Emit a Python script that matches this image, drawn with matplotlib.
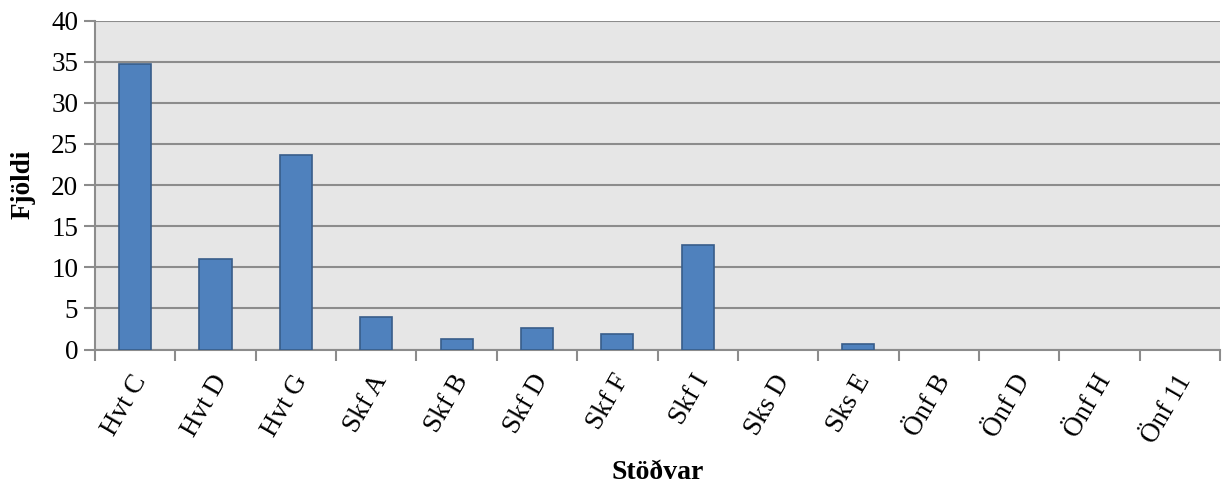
import matplotlib.pyplot as plt
import matplotlib.transforms as mtransforms
import numpy as np

stations = ["Hvt C", "Hvt D", "Hvt G", "Skf A", "Skf B", "Skf D", "Skf F",
            "Skf I", "Sks D", "Sks E", "Önf B", "Önf D", "Önf H", "Önf 11"]
counts = [34.67, 11.0, 23.67, 4.0, 1.33, 2.67, 1.83,
          12.67, 0.0, 0.67, 0.0, 0.0, 0.0, 0.0]
y_ticks = [0, 5, 10, 15, 20, 25, 30, 35, 40]

plt.rcParams['font.family'] = ['Liberation Serif', 'DejaVu Serif']

fig = plt.figure(figsize=(12.23, 4.86), dpi=100)
ax = fig.add_axes([95 / 1223, 1 - 349.5 / 486, 1125 / 1223, 329 / 486])

ax.set_facecolor('#e6e6e6')
x = np.arange(len(stations))
edge_widths = [1.2 if c > 0 else 0 for c in counts]
ax.bar(x, counts, width=0.4, color='#4f81bd', edgecolor='#385d8a',
       linewidth=edge_widths, zorder=3)

ax.set_xlim(-0.5, len(stations) - 0.5)
ax.set_ylim(0, 40)
ax.set_yticks(y_ticks)
ax.yaxis.grid(True, color='#8c8c8c', linewidth=1.5, zorder=0)
ax.set_axisbelow(True)

# category boundaries carry the x tick marks
ax.set_xticks(np.arange(len(stations) + 1) - 0.5, minor=False)
ax.set_xticklabels([])
ax.set_xticks(x, minor=True)
ax.set_xticklabels(stations, minor=True, rotation=60, ha='right', va='top',
                   rotation_mode='anchor', fontsize=19.5)
ax.tick_params(axis='x', which='minor', length=0, pad=15)
ax.tick_params(axis='x', which='major', length=8, width=1.5, color='#8c8c8c')
ax.tick_params(axis='y', length=8, width=1.5, color='#8c8c8c', labelsize=19.5,
               pad=4)
shift = mtransforms.ScaledTranslation(-5 / 100, 0, fig.dpi_scale_trans)
for lbl in ax.get_xticklabels(minor=True):
    lbl.set_transform(lbl.get_transform() + shift)

for s in ['top', 'right']:
    ax.spines[s].set_visible(False)
for s in ['left', 'bottom']:
    ax.spines[s].set_color('#8c8c8c')
    ax.spines[s].set_linewidth(1.5)

fig.text(23 / 1223, 1 - 184 / 486, 'Fjöldi', rotation=90, ha='center',
         va='center', fontsize=19.5, fontweight='bold')
fig.text(658 / 1223, 1 - 472 / 486, 'Stöðvar', ha='center', va='center',
         fontsize=20, fontweight='bold')

fig.savefig('out.png', dpi=100)
